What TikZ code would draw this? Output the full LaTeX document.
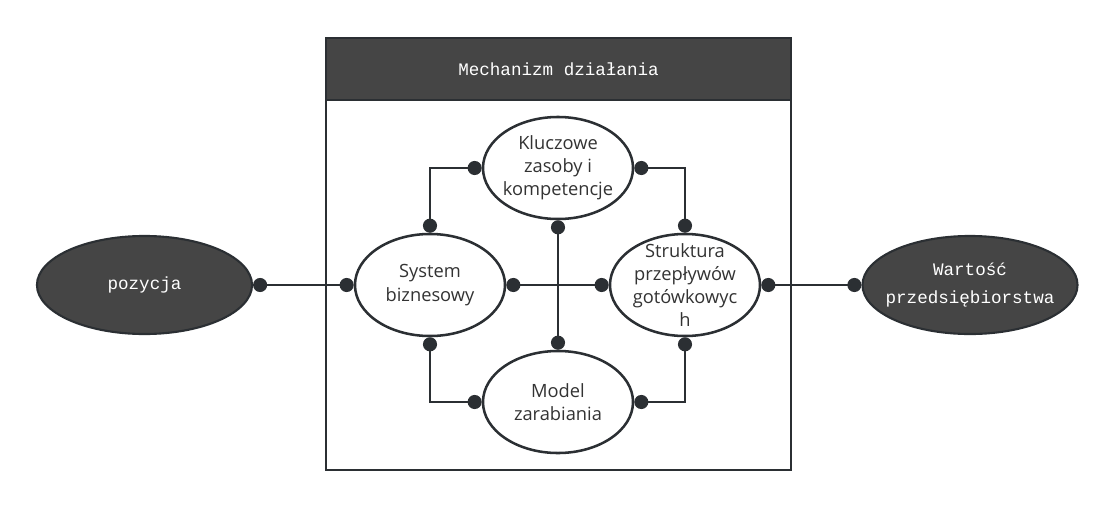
\documentclass[tikz,border=0pt]{standalone}
\usepackage{fontspec}
\setmainfont{Open Sans}
\newfontfamily\monofont{Liberation Mono}
\usetikzlibrary{arrows.meta,shapes.geometric}
\definecolor{darkfill}{HTML}{454545}
\definecolor{inkline}{HTML}{2B2F33}
\definecolor{bubtext}{HTML}{333333}

\begin{document}
\begin{tikzpicture}[
  x=0.025cm, y=-0.025cm,
  bubble/.style={ellipse, draw=inkline, line width=1.8pt, fill=white, minimum width=3.75cm, minimum height=2.55cm, inner sep=0pt},
  bubtxt/.style={align=center, text=bubtext, font=\fontsize{13}{16.5}\selectfont},
  darkbubble/.style={ellipse, draw=inkline, line width=1.5pt, fill=darkfill, minimum width=5.375cm, minimum height=2.45cm, inner xsep=-10pt, inner ysep=0pt, align=center, text=white, font=\monofont\fontsize{12.5}{20}\selectfont},
  link/.style={{Circle[length=10pt]}-{Circle[length=10pt]}, line width=1.8pt, draw=inkline},
]
  \useasboundingbox (0,0) rectangle (1114,508);

  % container with header
  \node[draw=inkline, line width=1.5pt, minimum width=11.625cm, minimum height=10.8cm, inner sep=0pt] (frame) at (558.5,254) {};
  \node[draw=inkline, line width=1.5pt, fill=darkfill, minimum width=11.625cm, minimum height=1.55cm, inner sep=0pt, anchor=north, text=white, font=\monofont\fontsize{12.5}{14}\selectfont] (head) at (frame.north) {Mechanizm działania};

  % outer ellipses
  \node[darkbubble] (poz) at (144.5,285) {pozycja};
  \node[darkbubble] (war) at (970,285) {Wartość\\przedsiębiorstwa};

  % inner ellipses
  \node[bubble, label={[bubtxt]center:System\\biznesowy}] (sb) at (430,285) {};
  \node[bubble, label={[bubtxt]center:Kluczowe\\zasoby i\\kompetencje}] (kz) at (558,168) {};
  \node[bubble, label={[bubtxt]center:Model\\zarabiania}] (mz) at (558,402) {};
  \node[bubble, label={[bubtxt]center:Struktura\\przepływów\\gotówkowyc\\h}] (sf) at (685,285) {};

  \draw[link] (poz.east) -- (sb.west);
  \draw[link] (sb.east) -- (sf.west);
  \draw[link] (kz.south) -- (mz.north);
  \draw[link] (kz.west) -| (sb.north);
  \draw[link] (kz.east) -| (sf.north);
  \draw[link] (sb.south) |- (mz.west);
  \draw[link] (sf.south) |- (mz.east);
  \draw[link] (sf.east) -- (war.west);
\end{tikzpicture}
\end{document}
